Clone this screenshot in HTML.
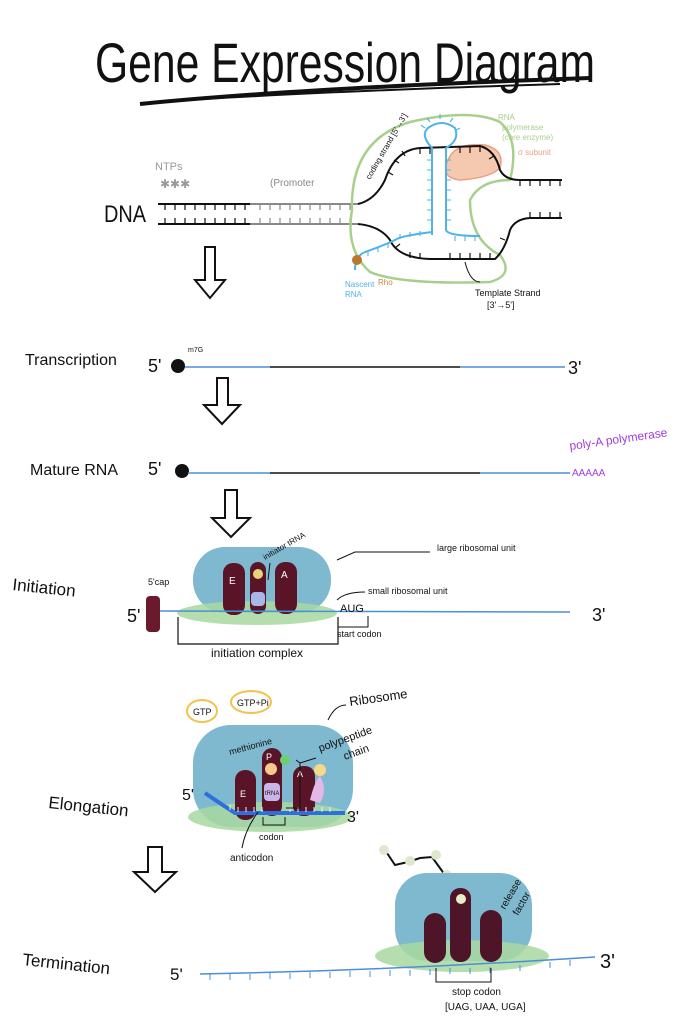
<!DOCTYPE html>
<html><head><meta charset="utf-8"><style>
html,body{margin:0;padding:0;background:#fff;}
svg{display:block;}
text{font-family:"Liberation Sans",sans-serif;fill:#111;}
</style></head><body>
<svg width="679" height="1024" viewBox="0 0 679 1024" xmlns="http://www.w3.org/2000/svg">
<defs>
<pattern id="tk" width="10" height="10" patternUnits="userSpaceOnUse"><rect width="10" height="10" fill="none"/><line x1="5" y1="0" x2="5" y2="6" stroke="#111" stroke-width="1.3"/></pattern>
</defs>
<!-- Title -->
<text x="95" y="82" font-size="56" font-family="Liberation Sans" style="font-weight:300" textLength="500" lengthAdjust="spacingAndGlyphs">Gene Expression Diagram</text>
<path d="M140 104 Q300 88 590 78" stroke="#111" stroke-width="4" fill="none"/>
<path d="M160 102 Q300 92 560 84" stroke="#111" stroke-width="2" fill="none"/>

<!-- DNA -->
<text x="104" y="222" font-size="24" textLength="42" lengthAdjust="spacingAndGlyphs">DNA</text>
<text x="155" y="170" font-size="11" fill="#999" style="fill:#999">NTPs</text>
<text x="160" y="188" font-size="12" style="fill:#999">✱✱✱</text>
<text x="270" y="186" font-size="10" style="fill:#888">(Promoter</text>
<line x1="158" y1="204" x2="250" y2="204" stroke="#111" stroke-width="2"/>
<line x1="250" y1="204" x2="358" y2="204" stroke="#888" stroke-width="2"/>
<line x1="158" y1="224" x2="250" y2="224" stroke="#111" stroke-width="2"/>
<line x1="250" y1="224" x2="358" y2="224" stroke="#888" stroke-width="2"/>
<g stroke="#111" stroke-width="1.2">
<path d="M165 204v6M175 204v6M185 204v6M195 204v6M205 204v6M215 204v6M225 204v6M235 204v6M245 204v6M165 224v-6M175 224v-6M185 224v-6M195 224v-6M205 224v-6M215 224v-6M225 224v-6M235 224v-6M245 224v-6"/>
</g>
<g stroke="#888" stroke-width="1.2">
<path d="M260 204v6M270 204v6M280 204v6M290 204v6M300 204v6M310 204v6M320 204v6M330 204v6M340 204v6M350 204v6M260 224v-6M270 224v-6M280 224v-6M290 224v-6M300 224v-6M310 224v-6M320 224v-6M330 224v-6M340 224v-6M350 224v-6"/>
</g>
<!-- green polymerase -->
<path d="M352 210 Q350 140 410 122 Q470 108 500 122 Q520 140 510 180 Q480 180 470 200 Q470 240 500 255 Q515 275 490 282 Q400 285 370 272 Q345 250 352 210Z" fill="none" stroke="#a8d08d" stroke-width="2.5"/>
<!-- salmon -->
<path d="M448 160 Q455 142 485 145 Q505 150 500 168 Q490 178 460 180 Q440 178 448 160Z" fill="#f5c9b0" stroke="#ec9f80" stroke-width="1.5"/>
<!-- DNA bubble strands -->
<path d="M358 204 Q375 200 385 180 Q395 150 420 148 L480 146 Q495 150 500 170 Q505 180 520 180 L562 180" fill="none" stroke="#111" stroke-width="2"/>
<path d="M358 224 Q380 226 390 240 Q398 258 430 259 L495 259 Q505 250 510 230 Q515 219 530 218 L562 218" fill="none" stroke="#111" stroke-width="2"/>
<g stroke="#111" stroke-width="1.2">
<path d="M388 172l5 3M394 160l5 3M402 151l3 5M420 148v6M430 148v6M460 147v6M470 147v6M480 146v6M494 156l-5 3M520 180v6M530 180v6M540 180v6M550 180v6M560 180v6"/>
<path d="M395 248l5-4M410 258v-6M420 259v-6M450 259v-6M460 259v-6M470 259v-6M480 259v-6M490 259v-6M505 240l-5-2M530 218v-6M540 218v-6M550 218v-6M560 218v-6"/>
</g>
<!-- blue RNA -->
<path d="M432 235 L432 148 Q420 135 428 128 Q442 118 455 128 Q460 140 446 148 L446 230 Q448 236 480 236" fill="none" stroke="#4fb3e8" stroke-width="2"/>
<path d="M432 232 Q400 236 395 240 Q385 245 365 252 Q355 256 355 270" fill="none" stroke="#4fb3e8" stroke-width="2"/>
<g stroke="#4fb3e8" stroke-width="1.1">
<path d="M432 160h-5M432 170h-5M432 180h-5M432 190h-5M432 200h-5M432 210h-5M432 220h-5M446 160h5M446 170h5M446 180h5M446 190h5M446 200h5M446 210h5M446 220h5M425 128l-4-3M430 122l-3-4M440 119v-5M450 122l3-4M456 130l4-2M455 236v5M465 236v5M475 236v5M420 236v-5M410 237v-5M400 239v-5M388 243v5M378 247v5M368 251v5"/>
</g>
<circle cx="357" cy="260" r="5" fill="#b8772a"/>
<text x="345" y="287" font-size="8" style="fill:#4fb3e8">Nascent</text>
<text x="345" y="297" font-size="8" style="fill:#4fb3e8">RNA</text>
<text x="378" y="285" font-size="8" style="fill:#c98a3a">Rho</text>
<text x="498" y="120" font-size="8" style="fill:#a8d08d">RNA</text>
<text x="502" y="130" font-size="8" style="fill:#a8d08d">polymerase</text>
<text x="502" y="140" font-size="8" style="fill:#a8d08d">(core enzyme)</text>
<text x="518" y="155" font-size="8" style="fill:#ec9f80">σ subunit</text>
<text x="0" y="0" font-size="8" transform="translate(370,180) rotate(-60)">coding strand [5'→3']</text>
<path d="M465 262 Q470 282 480 282" fill="none" stroke="#111" stroke-width="1"/>
<text x="475" y="296" font-size="9">Template Strand</text>
<text x="487" y="308" font-size="9">[3'→5']</text>
<!-- arrow 1 -->
<path d="M205 247 L215 247 L215 280 L225 280 L210 298 L195 280 L205 280Z" fill="none" stroke="#111" stroke-width="2"/>

<!-- Transcription -->
<text x="25" y="365" font-size="16">Transcription</text>
<text x="148" y="372" font-size="18">5'</text>
<circle cx="178" cy="366" r="7" fill="#111"/>
<text x="188" y="352" font-size="7">m7G</text>
<line x1="185" y1="367" x2="270" y2="367" stroke="#4a8fd8" stroke-width="1.5"/>
<line x1="270" y1="367" x2="460" y2="367" stroke="#111" stroke-width="1.5"/>
<line x1="460" y1="367" x2="565" y2="367" stroke="#4a8fd8" stroke-width="1.5"/>
<text x="568" y="374" font-size="18">3'</text>
<path d="M217 378 L228 378 L228 405 L240 405 L222 424 L204 405 L217 405Z" fill="none" stroke="#111" stroke-width="2"/>

<!-- Mature RNA -->
<text x="30" y="475" font-size="16">Mature RNA</text>
<text x="148" y="475" font-size="18">5'</text>
<circle cx="182" cy="471" r="7" fill="#111"/>
<line x1="188" y1="473" x2="270" y2="473" stroke="#4a8fd8" stroke-width="1.5"/>
<line x1="270" y1="473" x2="480" y2="473" stroke="#111" stroke-width="1.5"/>
<line x1="480" y1="473" x2="570" y2="473" stroke="#4a8fd8" stroke-width="1.5"/>
<text x="570" y="450" font-size="12" style="fill:#a23ce0" transform="rotate(-8 570 450)">poly-A polymerase</text>
<text x="572" y="476" font-size="10" style="fill:#a23ce0">AAAAA</text>
<path d="M225 490 L237 490 L237 518 L250 518 L231 537 L212 518 L225 518Z" fill="none" stroke="#111" stroke-width="2"/>

<!-- Initiation -->
<text x="12" y="590" font-size="17" transform="rotate(6 12 590)">Initiation</text>
<rect x="193" y="547" width="138" height="66" rx="32" fill="#7fb9cf"/>
<ellipse cx="257" cy="613" rx="80" ry="12" fill="#a8d8a0" opacity="0.85"/>
<rect x="223" y="563" width="22" height="52" rx="10" fill="#5a1428"/>
<rect x="250" y="562" width="16" height="52" rx="8" fill="#5a1428"/>
<rect x="275" y="562" width="22" height="52" rx="10" fill="#5a1428"/>
<circle cx="258" cy="574" r="5" fill="#e8d27a"/>
<rect x="251" y="592" width="14" height="14" rx="4" fill="#a9b6e8"/>
<text x="229" y="584" font-size="10" style="fill:#fff">E</text>
<text x="281" y="578" font-size="10" style="fill:#fff">A</text>
<text x="265" y="560" font-size="8" transform="rotate(-30 265 560)">initiator tRNA</text>
<line x1="270" y1="563" x2="268" y2="580" stroke="#111"/>
<rect x="146" y="596" width="14" height="36" rx="4" fill="#6b1a2e"/>
<text x="148" y="585" font-size="9">5'cap</text>
<text x="127" y="622" font-size="18">5'</text>
<line x1="160" y1="611" x2="570" y2="612" stroke="#4a8fd8" stroke-width="1.5"/>
<text x="592" y="621" font-size="18">3'</text>
<text x="340" y="612" font-size="11">AUG</text>
<path d="M337 560 L355 552 L430 552" fill="none" stroke="#111" stroke-width="1"/>
<text x="437" y="551" font-size="9">large ribosomal unit</text>
<path d="M337 600 Q345 592 365 592" fill="none" stroke="#111" stroke-width="1"/>
<text x="368" y="594" font-size="9">small ribosomal unit</text>
<path d="M178 617 L178 644 L338 644 L338 617" fill="none" stroke="#111" stroke-width="1.2"/>
<path d="M338 624 L338 627 L368 627 L368 616" fill="none" stroke="#111" stroke-width="1"/>
<text x="337" y="637" font-size="9">start codon</text>
<text x="211" y="657" font-size="12">initiation complex</text>

<!-- Elongation -->
<ellipse cx="202" cy="711" rx="15" ry="11" fill="none" stroke="#f2c34a" stroke-width="2"/>
<text x="193" y="715" font-size="9">GTP</text>
<ellipse cx="251" cy="702" rx="20" ry="11" fill="none" stroke="#f2c34a" stroke-width="2"/>
<text x="237" y="706" font-size="9">GTP+Pi</text>
<rect x="193" y="725" width="160" height="102" rx="38" fill="#7fb9cf"/>
<ellipse cx="270" cy="817" rx="82" ry="15" fill="#a8d8a0" opacity="0.85"/>
<rect x="235" y="770" width="21" height="50" rx="10" fill="#5a1428"/>
<rect x="262" y="748" width="20" height="68" rx="10" fill="#5a1428"/>
<rect x="293" y="766" width="22" height="50" rx="10" fill="#5a1428"/>
<circle cx="271" cy="769" r="6" fill="#f5c98a"/>
<circle cx="285" cy="760" r="5" fill="#6cd16c"/>
<circle cx="320" cy="770" r="6" fill="#f5d98a"/>
<path d="M310 800 Q315 780 320 776 Q328 790 320 803Z" fill="#e3b8e8"/>
<rect x="264" y="783" width="16" height="18" rx="4" fill="#c9b5e8"/>
<text x="265" y="795" font-size="6">tRNA</text>
<text x="240" y="797" font-size="9" style="fill:#fff">E</text>
<text x="266" y="760" font-size="9" style="fill:#fff">P</text>
<text x="297" y="777" font-size="9" style="fill:#fff">A</text>
<path d="M205 793 Q215 800 235 813 L345 813" fill="none" stroke="#2d6fe0" stroke-width="4"/>
<g stroke="#e8f0e8" stroke-width="1"><path d="M230 810v-5M238 812v-5M246 812v-5M254 812v-5M262 812v-5M290 812v-5M298 812v-5M306 812v-5M314 812v-5M322 812v-5M330 812v-5"/></g>
<text x="182" y="800" font-size="16">5'</text>
<text x="347" y="822" font-size="16">3'</text>
<text x="230" y="755" font-size="9" transform="rotate(-15 230 755)">methionine</text>
<text x="320" y="752" font-size="11" transform="rotate(-20 320 752)">polypeptide</text>
<text x="345" y="760" font-size="11" transform="rotate(-20 345 760)">chain</text>
<path d="M296 760 L300 763 L300 808 L286 808" fill="none" stroke="#111" stroke-width="1"/>
<path d="M300 763 L316 758" stroke="#111" stroke-width="1"/>
<path d="M328 720 Q335 705 346 705" fill="none" stroke="#111" stroke-width="1"/>
<text x="350" y="706" font-size="13" transform="rotate(-8 350 706)">Ribosome</text>
<path d="M263 817 L263 825 L285 825 L285 817" fill="none" stroke="#111"/>
<text x="259" y="840" font-size="9">codon</text>
<path d="M258 812 Q245 830 242 848" fill="none" stroke="#111"/>
<text x="230" y="861" font-size="10">anticodon</text>
<text x="48" y="808" font-size="17" transform="rotate(6 48 808)">Elongation</text>
<path d="M148 847 L162 847 L162 872 L176 872 L155 892 L134 872 L148 872Z" fill="none" stroke="#111" stroke-width="2"/>

<!-- Termination -->
<path d="M385 850 L395 865 L408 862 L420 858 L432 857 L445 875 L455 890" fill="none" stroke="#111" stroke-width="2"/>
<g fill="#dde8cc"><circle cx="384" cy="850" r="5"/><circle cx="410" cy="861" r="5"/><circle cx="436" cy="855" r="5"/><circle cx="447" cy="875" r="5"/></g>
<rect x="395" y="873" width="137" height="88" rx="32" fill="#7fb9cf"/>
<ellipse cx="462" cy="956" rx="87" ry="16" fill="#a8d8a0" opacity="0.85"/>
<rect x="424" y="913" width="22" height="50" rx="11" fill="#4e1428"/>
<rect x="450" y="888" width="21" height="74" rx="10" fill="#4e1428"/>
<rect x="480" y="910" width="22" height="52" rx="11" fill="#4e1428"/>
<circle cx="461" cy="899" r="5" fill="#e8edc8"/>
<text x="505" y="910" font-size="10" transform="rotate(-60 505 910)">release</text>
<text x="518" y="916" font-size="10" transform="rotate(-60 518 916)">factor</text>
<text x="22" y="965" font-size="17" transform="rotate(6 22 965)">Termination</text>
<text x="170" y="980" font-size="17">5'</text>
<path d="M200 974 Q400 970 595 957" fill="none" stroke="#4a8fd8" stroke-width="1.5"/>
<g stroke="#4a8fd8" stroke-width="1"><path d="M210 974v6M230 974v6M250 974v6M270 973v6M290 973v6M310 972v6M330 972v6M350 971v6M370 971v6M390 970v6M410 970v6M430 969v6M450 968v6M470 968v6M490 967v6M520 965v6M550 962v6M570 960v6"/></g>
<text x="600" y="968" font-size="20">3'</text>
<path d="M436 968 L436 982 L491 982 L491 968" fill="none" stroke="#111"/>
<text x="452" y="995" font-size="10">stop codon</text>
<text x="445" y="1010" font-size="10">[UAG, UAA, UGA]</text>
</svg>
</body></html>
